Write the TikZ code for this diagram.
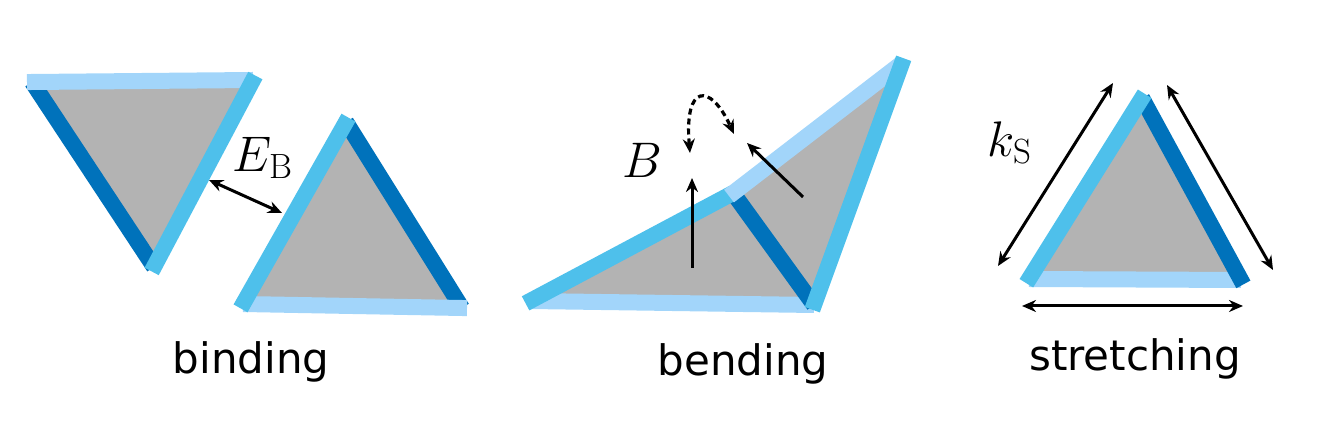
\RequirePackage{fix-cm}
\documentclass[tikz,border=0pt]{standalone}
\usepackage{fontspec}
\setsansfont{DejaVu Sans}
\usetikzlibrary{arrows.meta}
\definecolor{lightb}{RGB}{162,213,250}
\definecolor{midb}{RGB}{78,192,235}
\definecolor{darkb}{RGB}{0,114,187}
\definecolor{greyf}{RGB}{179,179,179}
\begin{document}
\begin{tikzpicture}[x=0.5pt,y=-0.5pt,
  bar/.style={line width=8pt},
  exs/.style={shorten <=-2.5pt},
  exe/.style={shorten >=-2.5pt},
  face/.style={fill=greyf},
  dbl/.style={{Stealth[length=7pt,width=6pt]}-{Stealth[length=7pt,width=6pt]}, line width=1.5pt},
  sgl/.style={-{Stealth[length=7pt,width=6pt]}, line width=1.5pt},
  lbl/.style={font=\sffamily\fontsize{21}{25}\selectfont, anchor=base, inner sep=0pt},
  mlbl/.style={font=\fontsize{25}{30}\selectfont, inner sep=0pt}]
\useasboundingbox (0,0) rectangle (1327,437);

% ---------- binding ----------
\coordinate (a1) at (32,82);
\coordinate (a2) at (253,80);
\coordinate (a3) at (154,267);
\fill[face] (a1) -- (a2) -- (a3) -- cycle;
\draw[bar,darkb] (a1) -- (a3);
\draw[bar,lightb,exs] (a1) -- (a2);
\draw[bar,midb,exs,exe] (a2) -- (a3);

\coordinate (b1) at (346,122);
\coordinate (b2) at (243,304);
\coordinate (b3) at (462,308);
\fill[face] (b1) -- (b2) -- (b3) -- cycle;
\draw[bar,darkb] (b1) -- (b3);
\draw[bar,lightb,exe] (b2) -- (b3);
\draw[bar,midb,exs,exe] (b1) -- (b2);

\coordinate (eb1) at (209,180);
\coordinate (eb2) at (282,213);
\draw[dbl] (eb1) -- (eb2);
\node[mlbl] (EB) at (263,158) {$E_{\mathrm{B}}$};
\node[lbl] (binding) at (251,374) {binding};

% ---------- bending ----------
\coordinate (cL) at (530,301);
\coordinate (cF) at (733,193);
\coordinate (cR) at (814,305);
\coordinate (cT) at (902,63);
\fill[face] (cL) -- (cF) -- (cR) -- cycle;
\fill[face] (cF) -- (cT) -- (cR) -- cycle;
\draw[bar,lightb] (cL) -- (cR);
\draw[bar,darkb] (cF) -- (cR);
\draw[bar,midb,exs] (cL) -- (cF);
\draw[bar,lightb,exs] (cF) -- (cT);
\draw[bar,midb,exs,exe] (cT) -- (cR);

\coordinate (n1s) at (692,268);
\coordinate (n1e) at (692,178);
\coordinate (n2s) at (803,197);
\coordinate (n2e) at (747,143);
\draw[sgl] (n1s) -- (n1e);
\draw[sgl] (n2s) -- (n2e);
\coordinate (d1) at (690,153);
\coordinate (d2) at (734,134);
\draw[dbl, line width=1.6pt, dash pattern=on 3pt off 2pt] (d1) .. controls (684,84) and (710,82) .. (d2);
\node[mlbl] (B) at (642,160) {$B$};
\node[lbl] (bending) at (743,376) {bending};

% ---------- stretching ----------
\coordinate (s1) at (1142,98);
\coordinate (s2) at (1029,279);
\coordinate (s3) at (1241,280);
\fill[face] (s1) -- (s2) -- (s3) -- cycle;
\draw[bar,lightb] (s2) -- (s3);
\draw[bar,darkb,exe] (s1) -- (s3);
\draw[bar,midb,exs,exe] (s1) -- (s2);

\coordinate (k1) at (998,266);
\coordinate (k2) at (1113,83);
\coordinate (k3) at (1167,85);
\coordinate (k4) at (1273,270);
\coordinate (k5) at (1022,306);
\coordinate (k6) at (1243,306);
\draw[dbl] (k1) -- (k2);
\draw[dbl] (k3) -- (k4);
\draw[dbl] (k5) -- (k6);
\node[mlbl] (kS) at (1010,143) {$k_{\mathrm{S}}$};
\node[lbl] (stretching) at (1135,371) {stretching};
\end{tikzpicture}
\end{document}
